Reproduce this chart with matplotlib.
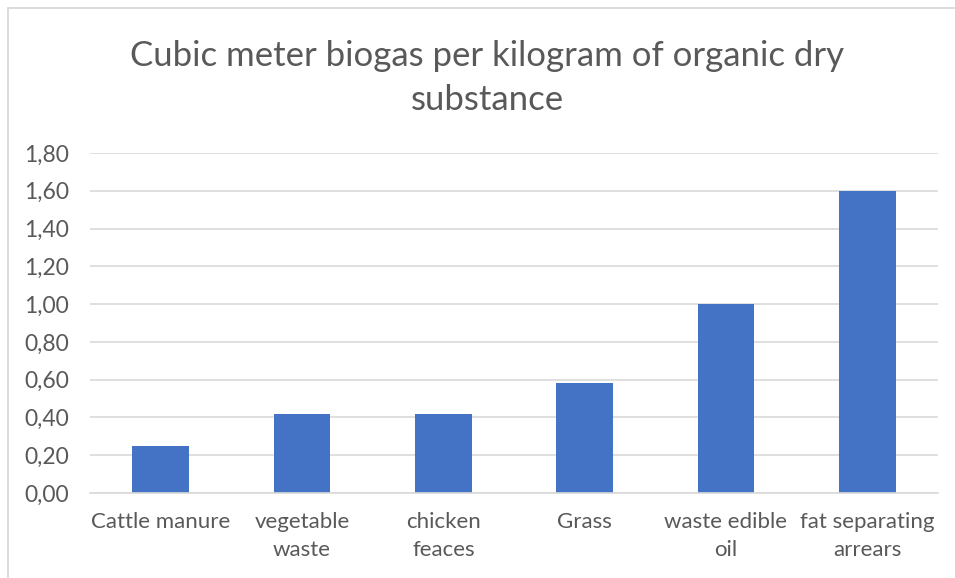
import matplotlib
matplotlib.use("Agg")
import matplotlib.pyplot as plt
from matplotlib.ticker import FuncFormatter, MultipleLocator
from matplotlib.patches import Rectangle

categories = ["Cattle manure", "vegetable\nwaste", "chicken\nfeaces", "Grass",
              "waste edible\noil", "fat separating\narrears"]
values = [0.25, 0.42, 0.42, 0.58, 1.00, 1.60]
title = "Cubic meter biogas per kilogram of organic dry\nsubstance"

TEXT = "#595959"
GRID = "#D9D9D9"
BAR = "#4472C4"

plt.rcParams["font.family"] = ["Lato", "DejaVu Sans"]

W, H = 955, 578
fig = plt.figure(figsize=(W / 100, H / 100), dpi=100)

# chart-area border (only left and top edges are inside the image)
fig.patches.append(Rectangle((8 / W, -0.1), 1.2, (H - 8) / H + 0.1,
                             transform=fig.transFigure, fill=False,
                             edgecolor=GRID, linewidth=1.3))

ax = fig.add_axes([90 / W, 1 - 493 / H, (938 - 90) / W, (493 - 153) / H])
x = range(len(categories))
ax.bar(x, values, width=0.4, color=BAR, zorder=3)

ax.set_xlim(-0.5, len(categories) - 0.5)
ax.set_ylim(0, 1.8)
ax.yaxis.set_major_locator(MultipleLocator(0.2))
ax.yaxis.set_major_formatter(FuncFormatter(lambda v, p: f"{v:.2f}".replace(".", ",")))
ax.grid(axis="y", color=GRID, linewidth=1.2, zorder=0)
for s in ["top", "right", "left"]:
    ax.spines[s].set_visible(False)
ax.spines["bottom"].set_color(GRID)
ax.spines["bottom"].set_linewidth(1.2)
ax.spines["bottom"].set_zorder(4)

ax.set_xticks(list(x))
ax.set_xticklabels(categories, fontsize=16, color=TEXT, linespacing=1.5)
ax.tick_params(axis="x", length=0, pad=14)
ax.tick_params(axis="y", length=0, pad=15, labelsize=16.5, labelcolor=TEXT)

fig.text(487 / W, 1 - 78 / H, title, ha="center", va="center",
         fontsize=25, color=TEXT, linespacing=1.45)

fig.savefig("out.png", dpi=100)
